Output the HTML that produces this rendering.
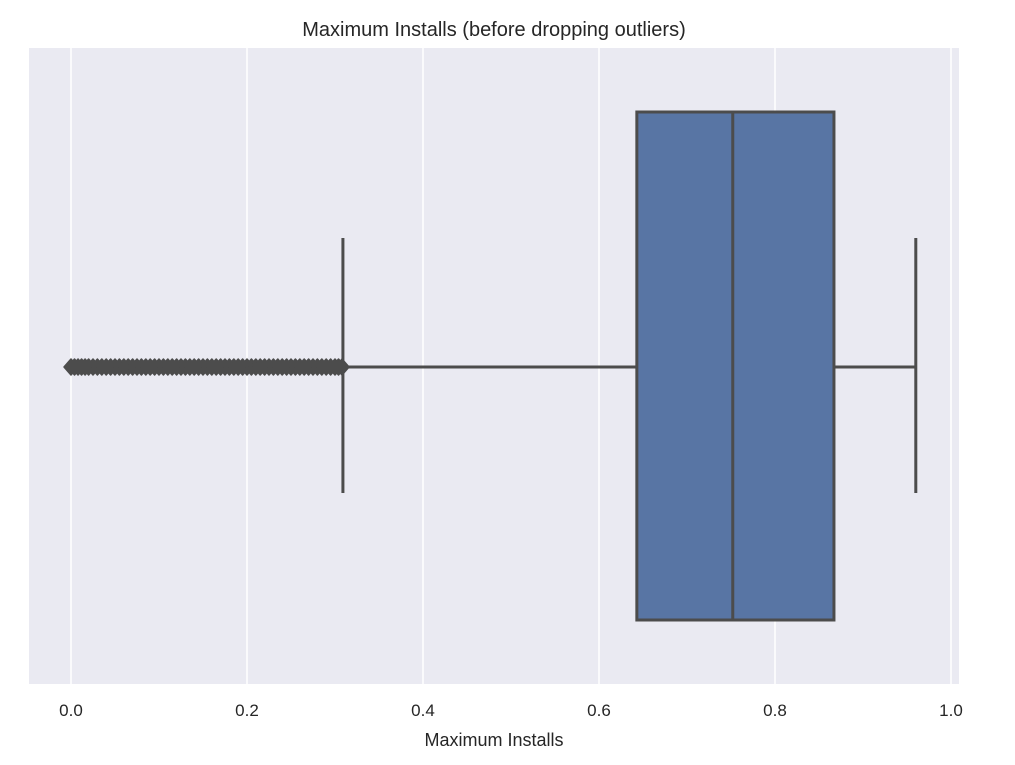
<!DOCTYPE html>
<html><head><meta charset="utf-8"><style>
body{margin:0;background:#fff;}
svg text{font-family:"Liberation Sans",sans-serif;fill:#262626;}
</style></head><body>
<svg id="chart" width="1015" height="760">
<rect x="29" y="48" width="930" height="636" fill="#eaeaf2"/>
<g id="grid"></g>
<g id="ticks"></g>
<g id="box"></g>
<text x="494" y="36" text-anchor="middle" font-size="20">Maximum Installs (before dropping outliers)</text>
<text x="494" y="746" text-anchor="middle" font-size="18">Maximum Installs</text>
</svg>
<script>
const tickValues=[0,0.2,0.4,0.6,0.8,1.0];
const tickLabels=["0.0","0.2","0.4","0.6","0.8","1.0"];
const boxStats=[0.309,0.643,0.752,0.867,0.960]; // whislo,q1,med,q3,whishi
const outliers=[0,0.004,0.008,0.012,0.016,0.02,0.025,0.03,0.035,0.04,0.045,0.05,0.055,0.06,0.065,0.07,0.075,0.08,0.085,0.09,0.095,0.10,0.105,0.11,0.115,0.12,0.125,0.13,0.135,0.14,0.145,0.15,0.155,0.16,0.165,0.17,0.175,0.18,0.185,0.19,0.195,0.20,0.205,0.21,0.215,0.22,0.225,0.23,0.235,0.24,0.245,0.25,0.255,0.26,0.265,0.27,0.275,0.28,0.285,0.29,0.295,0.30,0.304,0.308];
const NS='http://www.w3.org/2000/svg';
const xs=v=>71+v*880;
const cy=367, boxTop=112, boxBot=620, capTop=238, capBot=493;
function mk(tag,attrs,parent){const e=document.createElementNS(NS,tag);for(const k in attrs)e.setAttribute(k,attrs[k]);parent.appendChild(e);return e;}
const grid=document.getElementById('grid'),ticks=document.getElementById('ticks'),box=document.getElementById('box');
tickValues.forEach((v,i)=>{
 const l=mk('line',{x1:xs(v),x2:xs(v),y1:48,y2:684,stroke:'#fff','stroke-width':1.5},grid);
 
 
 const t=mk('text',{x:xs(v),y:716,'text-anchor':'middle','font-size':17},ticks);
 t.textContent=tickLabels[i];
 
 
});
const [wlo,q1,med,q3,whi]=boxStats;
const c='#4c4c4c';
let e;
e=mk('line',{x1:xs(wlo),x2:xs(q1),y1:cy,y2:cy,stroke:c,'stroke-width':3},box);


e=mk('line',{x1:xs(q3),x2:xs(whi),y1:cy,y2:cy,stroke:c,'stroke-width':3},box);


e=mk('line',{x1:xs(wlo),x2:xs(wlo),y1:capTop,y2:capBot,stroke:c,'stroke-width':3},box);


e=mk('line',{x1:xs(whi),x2:xs(whi),y1:capTop,y2:capBot,stroke:c,'stroke-width':3},box);


e=mk('rect',{x:xs(q1),y:boxTop,width:xs(q3)-xs(q1),height:boxBot-boxTop,fill:'#5875a4',stroke:c,'stroke-width':3},box);


e=mk('line',{x1:xs(med),x2:xs(med),y1:boxTop,y2:boxBot,stroke:c,'stroke-width':3},box);


outliers.forEach(v=>{
 const x=xs(v);
 const p=mk('polygon',{points:`${x-7},${cy} ${x},${cy-8} ${x+7},${cy} ${x},${cy+8}`,fill:c,stroke:c,'stroke-width':1.5,'stroke-linejoin':'round'},box);
 
 
});
</script>
</body></html>
